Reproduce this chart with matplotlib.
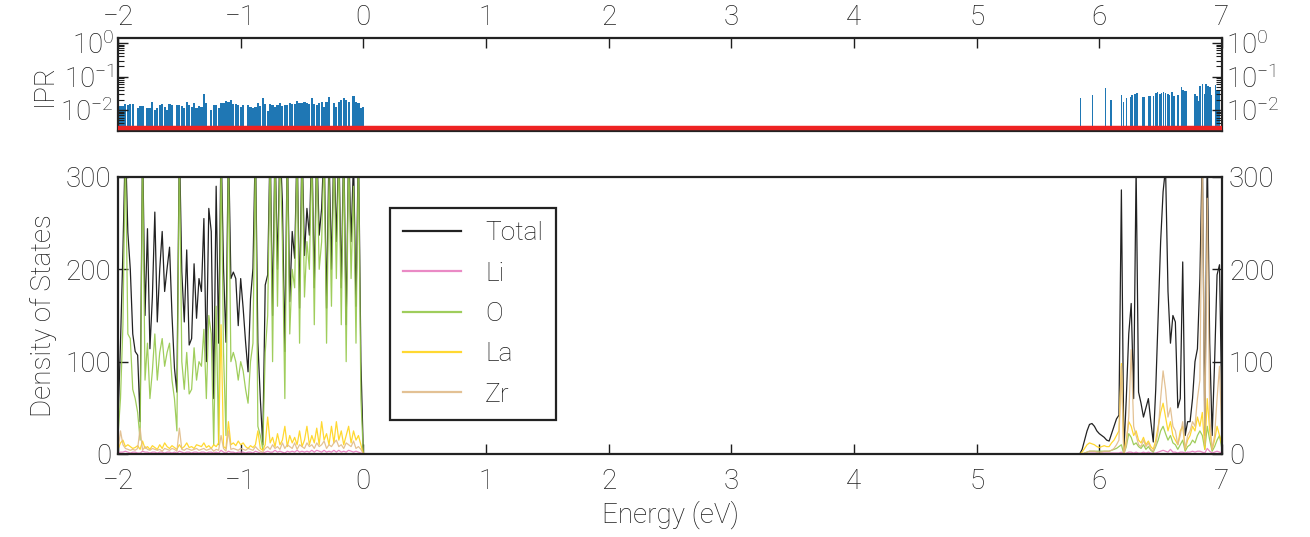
import numpy as np
import matplotlib
matplotlib.use("Agg")
import matplotlib.pyplot as plt
from matplotlib.ticker import LogLocator, NullFormatter, MultipleLocator

# ---- data ----
# valence band grid (-2 .. 0 eV, 0.02 eV steps) and conduction band grid (5.84 .. 7.00 eV)
energy_vb = np.linspace(-2.0, 0.0, 101)
energy_cb = np.linspace(5.84, 7.00, 59)

total_vb = [35, 120, 220, 340, 240, 200, 130, 111, 107, 35,
            340, 150, 244, 114, 170, 262, 143, 200, 241, 176,
            201, 224, 150, 93, 67, 340, 197, 143, 221, 118,
            125, 206, 147, 190, 176, 255, 100, 266, 241, 60,
            290, 120, 340, 201, 121, 340, 190, 197, 190, 139,
            190, 158, 121, 89, 168, 201, 340, 121, 60, 10,
            183, 194, 340, 150, 340, 200, 340, 273, 111, 340,
            165, 241, 212, 340, 158, 340, 215, 266, 237, 340,
            180, 340, 237, 266, 340, 158, 330, 200, 340, 230,
            340, 180, 340, 140, 340, 230, 320, 160, 340, 100,
            0]
li_vb = [1, 2, 2, 3, 2, 1, 2, 2, 1, 1,
         3, 2, 2, 1, 2, 2, 1, 2, 2, 1,
         2, 2, 1, 2, 1, 3, 2, 1, 2, 2,
         1, 2, 2, 1, 2, 2, 1, 2, 2, 1,
         2, 1, 4, 2, 1, 3, 2, 2, 1, 2,
         2, 2, 1, 2, 2, 1, 3, 2, 1, 1,
         2, 3, 2, 2, 4, 2, 3, 2, 1, 3,
         2, 3, 2, 4, 2, 3, 2, 3, 2, 4,
         2, 4, 3, 2, 4, 2, 3, 2, 4, 2,
         4, 2, 3, 2, 4, 3, 2, 3, 2, 1,
         0]
o_vb = [20, 60, 140, 330, 130, 125, 70, 60, 45, 15,
        330, 80, 120, 60, 90, 130, 80, 110, 125, 95,
        110, 120, 80, 60, 25, 330, 100, 70, 110, 65,
        70, 115, 80, 100, 95, 135, 60, 150, 130, 10,
        160, 10, 330, 110, 20, 330, 100, 110, 100, 80,
        100, 90, 70, 55, 100, 120, 330, 30, 20, 5,
        110, 150, 330, 100, 330, 160, 330, 230, 60, 330,
        130, 200, 180, 330, 120, 330, 170, 230, 200, 330,
        140, 330, 200, 230, 330, 120, 300, 160, 330, 190,
        330, 140, 330, 100, 330, 190, 290, 120, 330, 60,
        0]
la_vb = [5, 12, 15, 8, 10, 8, 6, 7, 9, 5,
         14, 6, 8, 5, 9, 7, 5, 10, 6, 12,
         8, 6, 9, 7, 5, 10, 6, 8, 12, 7,
         8, 6, 10, 9, 8, 12, 7, 9, 6, 10,
         8, 12, 140, 8, 6, 35, 10, 12, 9, 14,
         10, 12, 8, 6, 9, 7, 10, 25, 6, 4,
         10, 40, 12, 18, 8, 22, 10, 15, 30, 8,
         20, 12, 18, 10, 25, 8, 15, 30, 10, 20,
         12, 28, 10, 35, 15, 22, 10, 30, 12, 35,
         15, 25, 10, 20, 30, 12, 25, 15, 20, 10,
         0]
zr_vb = [3, 25, 10, 6, 5, 4, 5, 4, 6, 28,
         4, 8, 5, 4, 6, 5, 4, 5, 3, 6,
         5, 4, 6, 5, 3, 28, 5, 4, 6, 5,
         4, 5, 6, 4, 5, 6, 4, 5, 6, 3,
         5, 4, 20, 6, 3, 25, 5, 6, 5, 4,
         6, 5, 4, 6, 5, 4, 8, 5, 3, 2,
         6, 8, 5, 10, 6, 8, 5, 12, 6, 10,
         8, 6, 12, 5, 10, 8, 6, 12, 8, 10,
         6, 12, 8, 10, 14, 6, 10, 8, 12, 15,
         8, 10, 6, 12, 10, 8, 14, 6, 8, 5,
         0]

total_cb = [0, 5, 15, 25, 32, 33, 30, 25, 22, 20,
            18, 15, 14, 22, 30, 38, 42, 286, 2, 60,
            130, 163, 60, 310, 67, 55, 40, 50, 60, 35,
            13, 70, 150, 230, 284, 310, 176, 120, 150, 143,
            50, 60, 208, 20, 35, 35, 60, 100, 114, 190,
            330, 20, 330, 120, 20, 100, 194, 205, 38]
li_cb = [0, 0, 0, 0, 1, 1, 1, 1, 1, 1,
         1, 1, 1, 1, 1, 1, 1, 2, 0, 1,
         2, 2, 1, 2, 1, 1, 2, 1, 2, 1,
         1, 1, 2, 3, 4, 3, 2, 5, 2, 2,
         1, 2, 2, 1, 2, 2, 3, 2, 3, 3,
         2, 1, 6, 3, 1, 2, 3, 2, 1]
o_cb = [0, 0, 1, 2, 3, 3, 3, 3, 3, 3,
        3, 3, 3, 4, 5, 6, 8, 10, 0, 8,
        22, 18, 10, 12, 8, 6, 10, 5, 8, 4,
        2, 8, 15, 25, 30, 22, 15, 20, 12, 10,
        5, 10, 15, 3, 8, 10, 15, 12, 20, 25,
        20, 5, 30, 15, 3, 8, 15, 20, 5]
la_cb = [0, 2, 6, 10, 12, 11, 10, 8, 7, 8,
         9, 8, 8, 12, 15, 20, 25, 98, 0, 15,
         35, 30, 20, 25, 15, 12, 18, 10, 14, 8,
         5, 15, 30, 45, 55, 40, 25, 35, 20, 15,
         10, 25, 30, 5, 15, 20, 30, 25, 40, 30,
         45, 5, 60, 25, 5, 15, 30, 20, 10]
zr_cb = [0, 0, 1, 2, 3, 3, 3, 2, 2, 2,
         3, 3, 3, 4, 6, 10, 15, 95, 0, 10,
         40, 113, 30, 20, 10, 8, 15, 8, 12, 5,
         3, 10, 25, 60, 90, 70, 40, 50, 30, 25,
         10, 20, 35, 5, 20, 25, 35, 30, 60, 80,
         320, 10, 277, 40, 5, 20, 60, 95, 15]

# IPR of the valence states (on the valence grid, nan = no state)
nan = np.nan
ipr_vb = [0.0123, 0.0123, 0.0123, 0.0141, 0.0129, 0.0141, 0.0141, nan, 0.0102, 0.0123,
          0.0120, nan, 0.0107, 0.0107, 0.0162, 0.0093, 0.0107, 0.0129, 0.0141, 0.0112,
          0.0089, 0.0141, 0.0129, nan, 0.0129, 0.0129, 0.0118, 0.0107, 0.0162, 0.0129,
          0.0112, 0.0148, 0.0107, 0.0123, 0.0112, 0.0282, 0.0155, nan, 0.0093, 0.0135,
          0.0129, 0.0107, 0.0155, 0.0155, 0.0178, 0.0162, 0.0186, 0.0141, 0.0141, 0.0129,
          0.0110, 0.0129, nan, 0.0129, 0.0117, 0.0107, 0.0112, 0.0155, 0.0123, 0.0214,
          0.0141, 0.0085, 0.0141, 0.0135, 0.0112, 0.0135, 0.0148, 0.0123, 0.0129, 0.0129,
          0.0148, 0.0141, 0.0141, 0.0178, 0.0155, 0.0148, 0.0162, 0.0148, 0.0141, 0.0214,
          0.0141, 0.0135, 0.0148, 0.0162, 0.0112, 0.0162, 0.0234, nan, 0.0155, 0.0117,
          0.0170, 0.0186, 0.0224, 0.0195, 0.0170, nan, 0.0246, 0.0170, 0.0155, 0.0107,
          0.0117]

# IPR of the conduction states
ipr_cb_energy = [5.848, 5.946, 6.052, 6.093, 6.182, 6.198, 6.223, 6.253, 6.266, 6.293,
                 6.307, 6.358, 6.369, 6.407, 6.418, 6.443, 6.462, 6.473, 6.494, 6.508,
                 6.524, 6.538, 6.560, 6.570, 6.592, 6.608, 6.641, 6.671, 6.682, 6.698,
                 6.709, 6.782, 6.796, 6.810, 6.823, 6.842, 6.859, 6.870, 6.886, 6.903,
                 6.916, 6.948, 6.959, 6.975]
ipr_cb = [0.0213, 0.0280, 0.0454, 0.0186, 0.0280, 0.0162, 0.0213, 0.0228, 0.0280, 0.0300,
          0.0322, 0.0228, 0.0228, 0.0244, 0.0244, 0.0244, 0.0322, 0.0345, 0.0300, 0.0322,
          0.0345, 0.0322, 0.0300, 0.0262, 0.0345, 0.0244, 0.0262, 0.0486, 0.0395, 0.0369,
          0.0369, 0.0300, 0.0244, 0.0173, 0.0520, 0.0597, 0.0300, 0.0597, 0.0520, 0.0486,
          0.0262, 0.0557, 0.0395, 0.0395]

ipr_threshold = 3.0e-3

species = ["Total", "Li", "O", "La", "Zr"]
colors = ["#222222", "#e87dbf", "#95c84a", "#ffd41a", "#e0bb88"]

plt.rcParams['font.family'] = ['Roboto', 'DejaVu Sans']
plt.rcParams['font.weight'] = 'light'
plt.rcParams['mathtext.fontset'] = 'custom'
plt.rcParams['mathtext.rm'] = 'Roboto:light'
plt.rcParams['mathtext.it'] = 'Roboto:light'
plt.rcParams['axes.linewidth'] = 1.6
plt.rcParams['axes.edgecolor'] = '#222222'
plt.rcParams['axes.labelweight'] = 'light'
plt.rcParams['text.color'] = '#1e1e1e'
plt.rcParams['axes.labelcolor'] = '#1e1e1e'
plt.rcParams['xtick.color'] = '#1e1e1e'
plt.rcParams['ytick.color'] = '#1e1e1e'


def make_plot():
    fig = plt.figure(figsize=(13.1, 5.37), dpi=100)
    ax_ipr = fig.add_axes([0.0901, 0.756, 0.8427, 0.1732])
    ax_dos = fig.add_axes([0.0901, 0.1546, 0.8427, 0.5158])

    # ---- IPR panel ----
    e_vb = np.asarray(energy_vb)
    v_vb = np.asarray(ipr_vb)
    keep = ~np.isnan(v_vb)
    ax_ipr.bar(e_vb[keep], v_vb[keep], width=0.018, bottom=1e-3,
               color="#1f77b4", linewidth=0)
    ax_ipr.bar(ipr_cb_energy, ipr_cb, width=0.013, bottom=1e-3,
               color="#1f77b4", linewidth=0)
    ax_ipr.axhline(ipr_threshold, color="#ee2222", lw=3.2, zorder=5)
    ax_ipr.set_yscale('log')
    ax_ipr.set_ylim(2.37e-3, 1.41)
    ax_ipr.set_xlim(-2, 7)
    ax_ipr.yaxis.set_major_locator(LogLocator(base=10, numticks=10))
    ax_ipr.yaxis.set_minor_locator(LogLocator(base=10, subs=np.arange(2, 10), numticks=20))
    ax_ipr.yaxis.set_minor_formatter(NullFormatter())
    ax_ipr.xaxis.set_major_locator(MultipleLocator(1))
    ax_ipr.tick_params(axis='x', which='both', direction='in', top=True, bottom=False,
                       labeltop=True, labelbottom=False, length=7, width=1, labelsize=20, pad=5)
    ax_ipr.tick_params(axis='y', which='major', direction='in', left=True, right=True,
                       labelleft=True, labelright=True, length=7, width=1, labelsize=20, pad=3)
    ax_ipr.tick_params(axis='y', which='minor', direction='in', left=True, right=True,
                       length=4, width=0.8)
    ax_ipr.set_ylabel("IPR", fontsize=20, labelpad=2)

    # ---- DOS panel ----
    e_all = np.concatenate([energy_vb, energy_cb])
    series = [total_vb + total_cb, li_vb + li_cb, o_vb + o_cb, la_vb + la_cb, zr_vb + zr_cb]
    for name, vals, col in zip(species, series, colors):
        ax_dos.plot(e_all, vals, color=col, lw=0.9, label=name,
                    alpha=0.9 if name != "Total" else 1.0)

    ax_dos.set_xlim(-2, 7)
    ax_dos.set_ylim(0, 300)
    ax_dos.xaxis.set_major_locator(MultipleLocator(1))
    ax_dos.yaxis.set_major_locator(MultipleLocator(100))
    ax_dos.tick_params(axis='x', direction='in', top=False, bottom=True,
                       length=7, width=1, labelsize=20, pad=10)
    ax_dos.tick_params(axis='y', direction='in', left=True, right=True,
                       labelleft=True, labelright=True, length=7, width=1, labelsize=20, pad=5)
    ax_dos.set_xlabel("Energy (eV)", fontsize=20, labelpad=4)
    ax_dos.set_ylabel("Density of States", fontsize=20, labelpad=6)

    leg = ax_dos.legend(loc='upper left', bbox_to_anchor=(0.2464, 0.888), borderaxespad=0,
                        fontsize=19, handlelength=2.2, handletextpad=0.9,
                        labelspacing=0.62, fancybox=False, framealpha=1,
                        borderpad=0.5)
    leg.get_frame().set_edgecolor('#222222')
    leg.get_frame().set_linewidth(1.6)
    for line in leg.get_lines():
        line.set_linewidth(1.6)

    fig.savefig('out.png', dpi=100)


if __name__ == "__main__":
    make_plot()
